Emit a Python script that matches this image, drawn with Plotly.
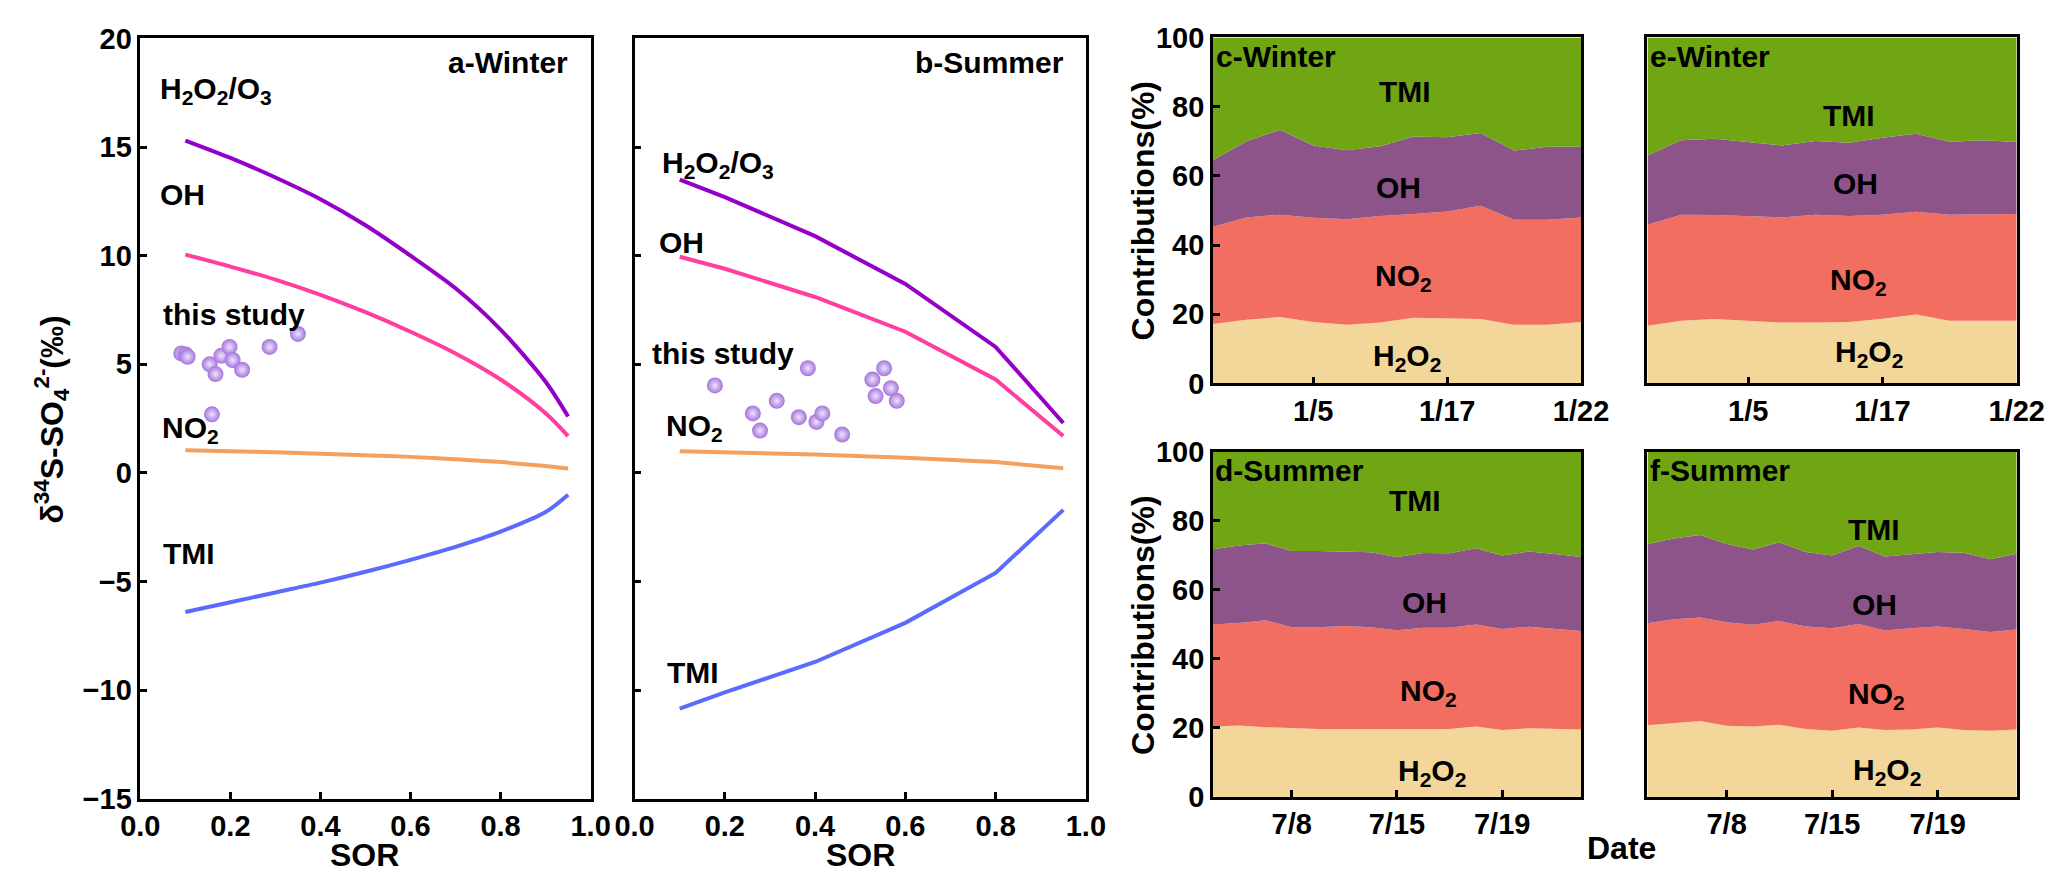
import plotly.graph_objects as go

# ---------------------------------------------------------
# data
# ---------------------------------------------------------
sor = [0.1, 0.2, 0.3, 0.4, 0.5, 0.6, 0.7, 0.8, 0.9, 0.95]
w_h2o2_o3 = [15.3, 14.5, 13.6, 12.6, 11.4, 10.0, 8.5, 6.6, 4.2, 2.6]
w_oh = [10.05, 9.5, 8.9, 8.2, 7.4, 6.5, 5.5, 4.3, 2.75, 1.7]
w_no2 = [1.05, 1.0, 0.95, 0.88, 0.82, 0.74, 0.63, 0.5, 0.32, 0.2]
w_tmi = [-6.4, -5.95, -5.5, -5.05, -4.55, -4.0, -3.4, -2.7, -1.8, -1.0]

w_obs_sor = [0.091, 0.101, 0.105, 0.154, 0.167, 0.18, 0.198, 0.205, 0.226, 0.287, 0.35, 0.159]
w_obs_d34s = [5.5, 5.45, 5.35, 5.0, 4.55, 5.4, 5.8, 5.2, 4.75, 5.8, 6.4, 2.7]

sor_s = [0.1, 0.2, 0.4, 0.6, 0.8, 0.95]
s_h2o2_o3 = [13.5, 12.7, 10.9, 8.7, 5.8, 2.3]
s_oh = [9.95, 9.4, 8.1, 6.5, 4.3, 1.7]
s_no2 = [1.0, 0.95, 0.85, 0.7, 0.5, 0.22]
s_tmi = [-10.85, -10.1, -8.7, -6.9, -4.6, -1.7]

s_obs_sor = [0.178, 0.262, 0.278, 0.315, 0.364, 0.403, 0.416, 0.384, 0.46,
             0.553, 0.527, 0.534, 0.568, 0.581]
s_obs_d34s = [4.03, 2.74, 1.95, 3.32, 2.57, 2.35, 2.74, 4.82, 1.77,
              4.82, 4.3, 3.54, 3.9, 3.32]

# stacked contributions: upper edge of each layer (%)
winter_idx = list(range(12))
winter_ticks = ["1/5", "1/17", "1/22"]
summer_idx = list(range(15))
summer_ticks = ["7/8", "7/15", "7/19"]

c_h2o2_top = [17.2, 18.4, 19.2, 17.8, 17.0, 17.6, 19.0, 18.8, 18.6, 17.0, 17.0, 17.8]
c_no2_top = [45.3, 48.0, 48.8, 47.9, 47.5, 48.4, 49.0, 49.7, 51.4, 47.3, 47.3, 48.0]
c_oh_top = [64.5, 70.0, 73.3, 68.8, 67.4, 68.6, 71.4, 71.2, 72.4, 67.3, 68.4, 68.4]

e_h2o2_top = [16.7, 18.1, 18.6, 18.1, 17.6, 17.6, 17.8, 18.7, 19.9, 18.1, 18.1, 18.1]
e_no2_top = [45.9, 48.8, 48.7, 48.4, 48.0, 48.8, 48.4, 48.8, 49.6, 48.8, 49.0, 49.0]
e_oh_top = [65.9, 70.3, 70.7, 69.8, 68.8, 70.1, 69.6, 71.0, 72.2, 69.9, 70.3, 69.8]

d_h2o2_top = [20.4, 20.7, 20.2, 19.9, 19.7, 19.7, 19.7, 19.7, 19.7, 19.7, 20.4, 19.4, 19.9, 19.7, 19.5]
d_no2_top = [50.0, 50.4, 51.2, 49.2, 49.2, 49.5, 49.2, 48.3, 49.0, 49.0, 50.0, 48.7, 49.3, 48.7, 48.1]
d_oh_top = [71.8, 72.9, 73.5, 71.3, 71.3, 71.1, 70.9, 69.5, 70.7, 70.6, 72.1, 70.0, 71.1, 70.4, 69.5]

f_h2o2_top = [20.8, 21.3, 22.0, 20.6, 20.4, 20.9, 19.7, 19.2, 20.1, 19.4, 19.5, 20.1, 19.4, 19.2, 19.5]
f_no2_top = [50.3, 51.5, 52.0, 50.6, 49.9, 51.0, 49.4, 48.9, 50.1, 48.2, 48.9, 49.4, 48.7, 47.8, 48.5]
f_oh_top = [73.3, 74.9, 75.9, 73.3, 71.7, 73.8, 71.0, 70.0, 72.8, 69.7, 70.3, 71.0, 70.8, 68.9, 70.5]

# ---------------------------------------------------------
# styles
# ---------------------------------------------------------
W, H = 2067, 882
FONT = "Arial, Liberation Sans, sans-serif"
LINE_COLORS = {"H2O2/O3": "#9400C8", "OH": "#FF3E9E", "NO2": "#F5A15D", "TMI": "#5A6BFF"}
AREA_COLORS = {"H2O2": "#F3D699", "NO2": "#F26E60", "OH": "#8D5489", "TMI": "#70A614"}


def px_x(a, b):
    return [a / W, b / W]


def px_y(top, bottom):
    return [1 - bottom / H, 1 - top / H]


fig = go.Figure()


def add_lines(xs, series, xa, ya, shape):
    for name, ys in series:
        fig.add_trace(go.Scatter(
            x=xs, y=ys, mode="lines", xaxis=xa, yaxis=ya,
            line=dict(color=LINE_COLORS[name], width=4, shape=shape, smoothing=0.8),
            showlegend=False, hoverinfo="skip"))


def add_points(xs, ys, xa, ya):
    fig.add_trace(go.Scatter(
        x=xs, y=ys, mode="markers", xaxis=xa, yaxis=ya, showlegend=False,
        marker=dict(size=16, color="#A474DB", line=dict(width=0),
                    gradient=dict(type="radial", color="#EFE4FF"))))


add_lines(sor, [("H2O2/O3", w_h2o2_o3), ("OH", w_oh), ("NO2", w_no2), ("TMI", w_tmi)],
          "x", "y", "spline")
add_points(w_obs_sor, w_obs_d34s, "x", "y")
add_lines(sor_s, [("H2O2/O3", s_h2o2_o3), ("OH", s_oh), ("NO2", s_no2), ("TMI", s_tmi)],
          "x2", "y2", "linear")
add_points(s_obs_sor, s_obs_d34s, "x2", "y2")


def add_areas(xs, h2o2, no2, oh, xa, ya):
    tops = [("H2O2", h2o2, "tozeroy"), ("NO2", no2, "tonexty"),
            ("OH", oh, "tonexty"), ("TMI", [100] * len(xs), "tonexty")]
    for name, ys, fill in tops:
        fig.add_trace(go.Scatter(
            x=xs, y=ys, mode="lines", fill=fill, fillcolor=AREA_COLORS[name],
            line=dict(width=0, color=AREA_COLORS[name]), xaxis=xa, yaxis=ya,
            showlegend=False, hoverinfo="skip"))


add_areas(winter_idx, c_h2o2_top, c_no2_top, c_oh_top, "x3", "y3")
add_areas(winter_idx, e_h2o2_top, e_no2_top, e_oh_top, "x4", "y4")
add_areas(summer_idx, d_h2o2_top, d_no2_top, d_oh_top, "x5", "y5")
add_areas(summer_idx, f_h2o2_top, f_no2_top, f_oh_top, "x6", "y6")

# ---------------------------------------------------------
# axes
# ---------------------------------------------------------
tick_font = dict(family=FONT, size=29, color="black", weight="bold")
frame = dict(showline=True, linecolor="black", linewidth=2.5, mirror=True,
             showgrid=False, zeroline=False, ticks="inside", ticklen=7,
             tickwidth=2.5, tickcolor="black", tickfont=tick_font)

sor_axis = dict(frame, range=[0, 1], dtick=0.2, tickformat=".1f")
d34_axis = dict(frame, range=[-15, 20], dtick=5)
pct_axis = dict(frame, range=[0, 100], dtick=20)

fig.update_layout(
    xaxis=dict(sor_axis, domain=px_x(115, 576), anchor="y"),
    yaxis=dict(d34_axis, domain=px_y(15, 804), anchor="x"),
    xaxis2=dict(sor_axis, domain=px_x(621, 1083), anchor="y2"),
    yaxis2=dict(d34_axis, domain=px_y(15, 804), anchor="x2", showticklabels=False),
    xaxis3=dict(frame, domain=px_x(1213, 1590), anchor="y3", range=[0, 11],
                tickvals=[3, 7, 11], ticktext=winter_ticks),
    yaxis3=dict(pct_axis, domain=px_y(14, 373), anchor="x3"),
    xaxis4=dict(frame, domain=px_x(1658, 2036), anchor="y4", range=[0, 11],
                tickvals=[3, 7, 11], ticktext=winter_ticks),
    yaxis4=dict(pct_axis, domain=px_y(14, 373), anchor="x4", showticklabels=False, ticks=""),
    xaxis5=dict(frame, domain=px_x(1213, 1590), anchor="y5", range=[0, 14],
                tickvals=[3, 7, 11], ticktext=summer_ticks),
    yaxis5=dict(pct_axis, domain=px_y(444, 802), anchor="x5"),
    xaxis6=dict(frame, domain=px_x(1658, 2036), anchor="y6", range=[0, 14],
                tickvals=[3, 7, 11], ticktext=summer_ticks),
    yaxis6=dict(pct_axis, domain=px_y(444, 802), anchor="x6", showticklabels=False, ticks=""),
)

# ---------------------------------------------------------
# text
# ---------------------------------------------------------
ann = []


def label(text, x, y, xa, ya, xanchor="left", size=30):
    ann.append(dict(text=text, x=x, y=y, xref=xa, yref=ya, xanchor=xanchor,
                    yanchor="middle", showarrow=False,
                    font=dict(family=FONT, size=size, color="black", weight="bold")))


# panel a
label("a-Winter", 0.955, 18.9, "x", "y", xanchor="right")
label("H<sub>2</sub>O<sub>2</sub>/O<sub>3</sub>", 0.04, 17.6, "x", "y")
label("OH", 0.04, 12.8, "x", "y")
label("this study", 0.047, 7.3, "x", "y")
label("NO<sub>2</sub>", 0.043, 2.0, "x", "y")
label("TMI", 0.047, -3.7, "x", "y")
# panel b
label("b-Summer", 0.955, 18.9, "x2", "y2", xanchor="right")
label("H<sub>2</sub>O<sub>2</sub>/O<sub>3</sub>", 0.056, 14.2, "x2", "y2")
label("OH", 0.05, 10.6, "x2", "y2")
label("this study", 0.035, 5.5, "x2", "y2")
label("NO<sub>2</sub>", 0.065, 2.1, "x2", "y2")
label("TMI", 0.067, -9.2, "x2", "y2")

# stacked panels
for xa, ya, title, pos in [
    ("x3", "y3", "c-Winter", [(5.75, 84.4), (5.55, 56.5), (5.7, 30.5), (5.8, 7.5)]),
    ("x4", "y4", "e-Winter", [(6.0, 77.4), (6.2, 57.7), (6.3, 29.6), (6.6, 8.6)]),
    ("x5", "y5", "d-Summer", [(7.7, 85.8), (8.06, 56.4), (8.2, 30.3), (8.35, 7.2)]),
    ("x6", "y6", "f-Summer", [(8.6, 77.4), (8.6, 55.9), (8.7, 29.4), (9.07, 7.5)]),
]:
    label(title, 0.02, 94.5, xa, ya)
    for text, (x, y) in zip(["TMI", "OH", "NO<sub>2</sub>", "H<sub>2</sub>O<sub>2</sub>"], pos):
        label(text, x, y, xa, ya, xanchor="center")


def paper_text(text, x, y, angle=0, size=32):
    ann.append(dict(text=text, x=x / W, y=1 - y / H, xref="paper", yref="paper",
                    xanchor="center", yanchor="middle", showarrow=False, textangle=angle,
                    font=dict(family=FONT, size=size, color="black", weight="bold")))


paper_text("δ<sup>34</sup>S-SO<sub>4</sub><sup>2-</sup>(‰)", 24, 410, angle=-90)
paper_text("SOR", 345, 862)
paper_text("SOR", 852, 862)
paper_text("Contributions(%)", 1142, 193, angle=-90)
paper_text("Contributions(%)", 1142, 623, angle=-90)
paper_text("Date", 1631, 855)

fig.update_layout(
    annotations=ann,
    width=W, height=H,
    margin=dict(l=0, r=0, t=0, b=0),
    paper_bgcolor="white", plot_bgcolor="white",
    showlegend=False,
)

fig.write_html("out.html")
